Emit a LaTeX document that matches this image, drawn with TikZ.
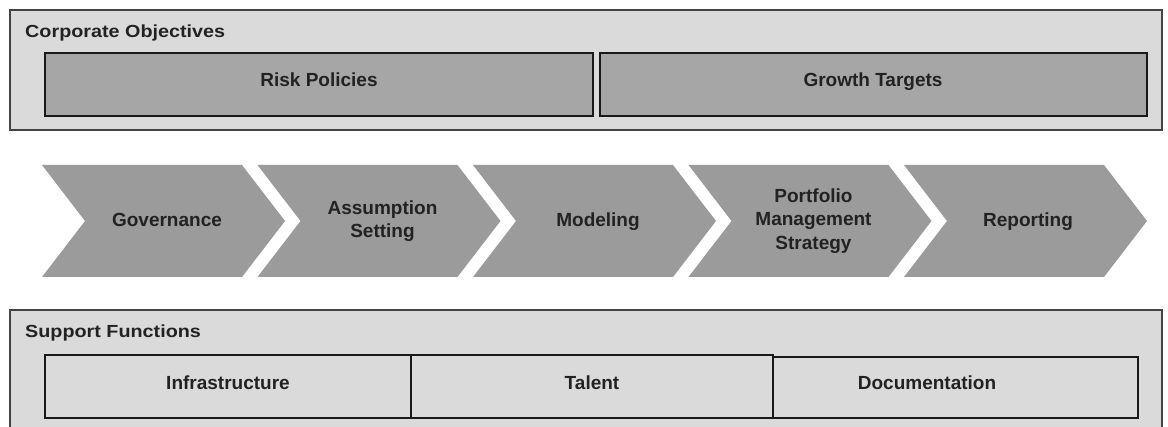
\documentclass[tikz,border=0pt]{standalone}
\usepackage{fontspec}
\setmainfont{Liberation Sans}
\newfontfamily\titlefont[FakeStretch=1.13]{Liberation Sans}
\usetikzlibrary{positioning}
\definecolor{outerfill}{HTML}{DADADA}
\definecolor{darkfill}{HTML}{A6A6A6}
\definecolor{chevfill}{HTML}{9B9B9B}
\definecolor{txt}{HTML}{222222}
\definecolor{frame}{HTML}{444444}
\tikzset{
  panel/.style={draw=frame, line width=1.3pt, fill=outerfill},
  paneltitle/.style={anchor=base west, inner sep=0pt, text=txt, font=\titlefont\bfseries\fontsize{17.5}{20}\selectfont},
  darkbox/.style={draw=black!90, line width=2.6pt, fill=darkfill},
  lightbox/.style={draw=black!90, line width=2.6pt, fill=outerfill},
  boxlabel/.style={text=txt, inner sep=0pt, text height=13.5pt, text depth=1.5pt, font=\bfseries\fontsize{19}{22}\selectfont},
  chev/.style={fill=chevfill, draw=none},
  chevlabel/.style={align=center, text=txt, font=\bfseries\fontsize{19}{23.5}\selectfont, inner sep=0pt},
  chevsingle/.style={boxlabel}
}
\begin{document}
\begin{tikzpicture}[x=1pt,y=-1pt]
\useasboundingbox (0,0) rectangle (1168,427);
\clip (0,0) rectangle (1168,427);
% top panel
\draw[panel] (10,10) rectangle (1162,130);
\node[paneltitle] (cotitle) at (25,37.5) {Corporate Objectives};
\draw[darkbox] (45,53) rectangle (593,116);
\node[boxlabel] (risk) at (319,81) {Risk Policies};
\draw[darkbox] (600,53) rectangle (1147,116);
\node[boxlabel] (growth) at (873,81) {Growth Targets};
% chevrons
\foreach \i in {0,...,4}{
  \pgfmathsetmacro{\xo}{42+215.5*\i}
  \fill[chev] (\xo,165) -- (\xo+200,165) -- (\xo+243,221) -- (\xo+200,277) -- (\xo,277) -- (\xo+43,221) -- cycle;
}
\node[chevsingle] (gov) at (167,221) {Governance};
\node[chevlabel] (ass) at (382.5,221) {Assumption\\Setting};
\node[chevsingle] (mod) at (598,221) {Modeling};
\node[chevlabel] (pms) at (813.5,221) {Portfolio\\Management\\Strategy};
\node[chevsingle] (rep) at (1028,221) {Reporting};
% bottom panel
\draw[panel] (10,310) rectangle (1162,445);
\node[paneltitle] (sftitle) at (25,337.5) {Support Functions};
\draw[lightbox] (45,355) rectangle (411,418);
\draw[lightbox] (411,355) rectangle (773,418);
\draw[lightbox] (773,357) rectangle (1138,418);
\node[boxlabel] (infra) at (228,384) {Infrastructure};
\node[boxlabel] (talent) at (592,384) {Talent};
\node[boxlabel] (doc) at (927,384) {Documentation};
\end{tikzpicture}
\end{document}
